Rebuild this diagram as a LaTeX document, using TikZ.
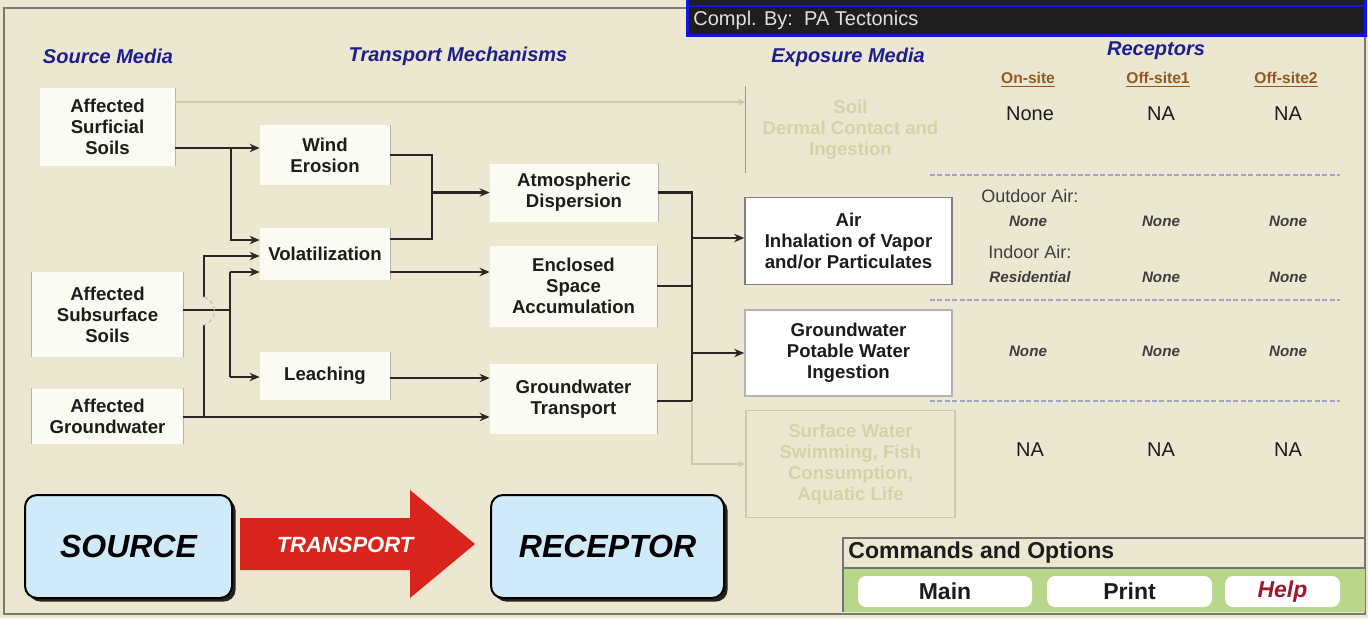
\documentclass[tikz,border=0pt]{standalone}
\usepackage{fontspec}
\setmainfont{Liberation Sans}
\usetikzlibrary{calc,arrows.meta,shadows}
\definecolor{bg}{HTML}{ECE7D1}
\definecolor{boxw}{HTML}{FCFBF3}
\definecolor{txt}{HTML}{1C1C1C}
\definecolor{conn}{HTML}{2A2624}
\definecolor{faded}{HTML}{CFCAA3}
\definecolor{fadedtxt}{HTML}{D6D1A6}
\definecolor{hdrblue}{HTML}{1E1E8E}
\definecolor{brownhdr}{HTML}{96581E}
\definecolor{dashc}{HTML}{A4A2C6}
\definecolor{lblue}{HTML}{CFEAF8}
\definecolor{redarr}{HTML}{D8241C}
\definecolor{greenrow}{HTML}{B8D78A}
\definecolor{helpred}{HTML}{A0182E}
\definecolor{framec}{HTML}{7A7A74}
\definecolor{bluebord}{HTML}{1414E6}
\definecolor{blackbar}{HTML}{1E1E1E}
\tikzset{
  wh/.style 2 args={minimum width=#1*0.5pt, minimum height=#2*0.5pt},
  box/.style={fill=boxw, inner sep=0pt, align=center, text=txt,
    font=\fontsize{9.3}{10.5}\selectfont\bfseries},
  hdr/.style={text=hdrblue, font=\fontsize{10}{12}\selectfont\bfseries\itshape, inner sep=0pt},
  colhdr/.style={text=brownhdr, font=\fontsize{7.8}{9}\selectfont\bfseries, inner sep=0pt},
  rv/.style={text=txt, font=\fontsize{10}{12}\selectfont, inner sep=0pt},
  rvi/.style={text=txt!85, font=\fontsize{7.6}{9}\selectfont\bfseries\itshape, inner sep=0pt},
  rlab/.style={text=txt!85, font=\fontsize{9}{11}\selectfont, inner sep=0pt, anchor=west},
  line/.style={draw=conn, line width=1.4pt},
  arr/.style={line, -{Stealth[length=5pt,width=4.2pt]}},
  fline/.style={draw=faded, line width=1pt},
  farr/.style={fline, -{Stealth[length=4pt,width=3.5pt]}},
  edgeline/.style={draw=black!30, line width=0.5pt},
  dashl/.style={draw=dashc, line width=0.6pt, dash pattern=on 2.5pt off 1.2pt},
  bigbox/.style={fill=lblue, draw=black, line width=1pt, rounded corners=6pt, inner sep=0pt,
    font=\fontsize{16}{18}\selectfont\bfseries\itshape, text=black,
    drop shadow={shadow xshift=1.8pt, shadow yshift=-1.8pt, fill=black, opacity=0.85}},
  btn/.style={fill=white, rounded corners=4pt, inner sep=0pt,
    font=\fontsize{11.5}{13}\selectfont\bfseries, text=txt}
}
\begin{document}
\begin{tikzpicture}[x=0.5pt,y=-0.5pt]
\useasboundingbox (0,0) rectangle (1368,618);
\fill[bg] (0,0) rectangle (1368,618);
% frame
\draw[framec, line width=1pt] (687,8) -- (4,8) -- (4,614) -- (1365,614) -- (1365,35);
% top-right bar
\fill[blackbar] (687,-4) rectangle (1365,35);
\draw[bluebord, line width=1.5pt] (687,-4) rectangle (1365,35);
\draw[bluebord, line width=1.2pt] (687,6) -- (1365,6);
\node[anchor=west, inner sep=0pt, text=black!12, font=\fontsize{10}{12}\selectfont] (compl) at (693,20) {Compl. By:\ \ PA Tectonics};

% headers
\node[hdr] (hsrc) at (108,56) {Source Media};
\node[hdr] (htr) at (458,56) {Transport Mechanisms};
\node[hdr] (hexp) at (848,57) {Exposure Media};
\node[hdr] (hrec) at (1156,51) {Receptors};
\node[colhdr] (consite) at (1028,80) {\underline{On-site}};
\node[colhdr] (coff1) at (1158,80) {\underline{Off-site1}};
\node[colhdr] (coff2) at (1286,80) {\underline{Off-site2}};

% source media
\node[box,wh={135}{78}] (surf) at (107.5,127) {Affected\\Surficial\\Soils};
\node[box,wh={151}{85}] (subs) at (107.5,314.5) {Affected\\Subsurface\\Soils};
\node[box,wh={151}{55}] (gw) at (107.5,416) {Affected\\Groundwater};
% transport
\node[box,wh={130}{60}] (wind) at (325,155) {Wind\\Erosion};
\node[box,wh={130}{52}] (vol) at (325,254) {Volatilization};
\node[box,wh={130}{48}] (leach) at (325,376) {Leaching};
\node[box,wh={168}{58}] (atm) at (574,192.5) {Atmospheric\\Dispersion};
\node[box,wh={167}{81}] (encl) at (573.5,286) {Enclosed\\Space\\Accumulation};
\node[box,wh={167}{70}] (gwt) at (573.5,399) {Groundwater\\Transport};
\foreach \n in {surf,subs,gw,wind,vol,leach,atm,encl,gwt}
  \draw[edgeline] (\n.north east) -- (\n.south east);
\draw[edgeline] (subs.north west) -- (subs.south west);
\draw[edgeline] (gw.north west) -- (gw.south west);
% exposure media
\node[box,fill=none,text=fadedtxt,wh={209}{86}] (soil) at (850.5,129.5) {Soil\\Dermal Contact and\\Ingestion};
\draw[draw=black!40, line width=0.8pt] (soil.north west) -- (soil.south west);
\node[box,fill=white,draw=black!50,line width=0.8pt,wh={207}{87}] (air) at (848.5,241) {Air\\Inhalation of Vapor\\and/or Particulates};
\node[box,fill=white,draw=black!30,line width=0.8pt,wh={207}{86}] (pot) at (848.5,353) {Groundwater\\Potable Water\\Ingestion};
\node[box,fill=bg,draw=faded,line width=0.8pt,text=fadedtxt,wh={209}{107}] (sw) at (850.5,464) {Surface Water\\Swimming, Fish\\Consumption,\\Aquatic Life};

% connectors: source -> transport
\coordinate (s1) at (231,148);
\draw[arr] (surf.east |- s1) -- (wind.west |- s1);
\draw[arr] (s1) |- (vol.west |- 0,240);
\coordinate (s2) at (230,310);
\draw[line] (subs.east |- s2) -- (s2);
\draw[arr] (s2 |- 0,272) -- (vol.west |- 0,272);
\draw[line] (s2 |- 0,272) -- (s2 |- 0,377);
\draw[arr] (s2 |- 0,377) -- (leach.west |- 0,377);
\coordinate (g1) at (204,417);
\coordinate (g2) at (204,325);
\coordinate (g3) at (204,297);
\draw[arr] (gw.east |- g1) -- (gwt.west |- g1);
\draw[line] (g1) -- (g2);
\draw[arr] (g3) |- (vol.west |- 0,256);
\draw[draw=black!25, line width=0.6pt, dash pattern=on 2pt off 1.5pt] (g3) .. controls (218,302) and (218,320) .. (g2);
% transport -> transport
\coordinate (w1) at (432,192.5);
\draw[line] (wind.east) -| (w1);
\draw[line] (vol.east |- 0,239) -| (w1);
\draw[arr] (w1) -- (atm.west);
\draw[arr] (vol.east |- 0,272) -- (encl.west |- 0,272);
\draw[arr] (leach.east |- 0,378) -- (gwt.west |- 0,378);
% transport -> exposure
\coordinate (r1) at (692,238);
\coordinate (r2) at (692,401);
\draw[line] (atm.east) -| (r2);
\draw[line] (encl.east) -- (encl.east -| r1);
\draw[line] (gwt.east |- r2) -- (r2);
\draw[arr] (r1) -- (air.west |- r1);
\draw[arr] (pot.west -| r1) -- (pot.west);
% faded connectors
\draw[farr] (surf.east |- 0,102) -- (soil.west |- 0,102);
\draw[fline, -{Stealth[length=4pt,width=3.5pt]}] ($(r2)+(0,1.5)$) |- (sw.west);

% receptor table
\node[rv] (n11) at (1030,114) {None};
\node[rv] (n12) at (1161,114) {NA};
\node[rv] (n13) at (1288,114) {NA};
\draw[dashl] (930,175) -- (1340,175);
\node[rlab] (outd) at (981,196) {Outdoor Air:};
\node[rvi] (n21) at (1028,221) {None};
\node[rvi] (n22) at (1161,221) {None};
\node[rvi] (n23) at (1288,221) {None};
\node[rlab] (indr) at (988,252) {Indoor Air:};
\node[rvi] (n31) at (1030,277) {Residential};
\node[rvi] (n32) at (1161,277) {None};
\node[rvi] (n33) at (1288,277) {None};
\draw[dashl] (930,300) -- (1340,300);
\node[rvi] (n41) at (1028,351) {None};
\node[rvi] (n42) at (1161,351) {None};
\node[rvi] (n43) at (1288,351) {None};
\draw[dashl] (930,401) -- (1340,401);
\node[rv] (n51) at (1030,450) {NA};
\node[rv] (n52) at (1161,450) {NA};
\node[rv] (n53) at (1288,450) {NA};

% bottom: source - transport - receptor
\node[bigbox,wh={207}{103}] (src) at (128.5,546.5) {SOURCE};
\fill[redarr] (240,518) -- (410,518) -- (410,490) -- (475,544) -- (410,598) -- (410,570) -- (240,570) -- cycle;
\node[inner sep=0pt, text=white, font=\fontsize{11}{13}\selectfont\bfseries\itshape] (trn) at (345,545) {TRANSPORT};
\node[bigbox,wh={233}{103}] (rec) at (607.5,546.5) {RECEPTOR};

% commands panel
\fill[greenrow] (843,568) rectangle (1365,612);
\draw[draw=black!55, line width=0.8pt] (843,538) rectangle (1365,568);
\draw[draw=black!55, line width=0.8pt] (843,568) -- (843,612);
\node[anchor=west, inner sep=0pt, text=txt, font=\fontsize{11.5}{13}\selectfont\bfseries] (cmd) at (848,553) {Commands and Options};
\node[btn,wh={174}{31}] (bmain) at (945,591.5) {Main};
\node[btn,wh={165}{31}] (bprint) at (1129.5,591.5) {Print};
\node[btn,wh={115}{31},text=helpred,font=\fontsize{11.5}{13}\selectfont\bfseries\itshape] (bhelp) at (1282.5,591.5) {Help};
\end{tikzpicture}
\end{document}
